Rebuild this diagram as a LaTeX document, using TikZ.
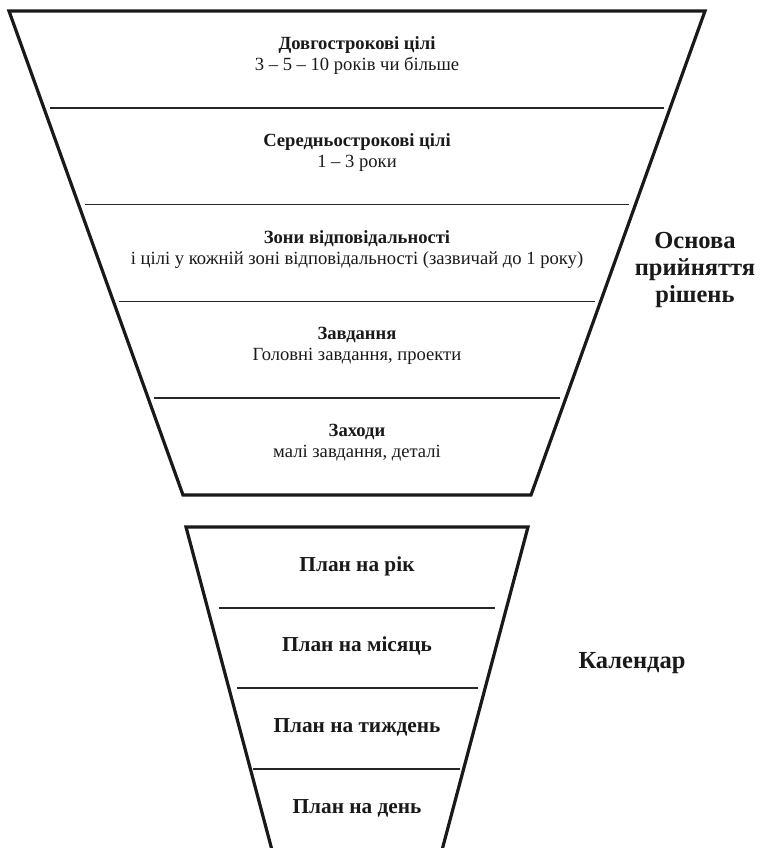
\documentclass[tikz,border=0pt]{standalone}
\usepackage{fontspec}
\setmainfont{Liberation Serif}
\tikzset{
  outline/.style={line width=3.2pt, line join=miter, black!90},
  divider/.style={line width=1.6pt, black!85},
  small/.style={align=center, font=\fontsize{18.6}{21}\selectfont, inner sep=0pt, text=black!90},
  plan/.style={font=\fontsize{21.3}{24}\selectfont\bfseries, inner sep=0pt, text=black!90},
  side/.style={align=center, font=\fontsize{24.5}{27}\selectfont\bfseries, inner sep=0pt, text=black!90}
}
\begin{document}
\begin{tikzpicture}[x=1pt, y=-1pt]
\useasboundingbox (0,0) rectangle (761,848);
\clip (0,0) rectangle (761,848);
% top funnel
\coordinate (tl) at (9,11);
\coordinate (tr) at (705,11);
\coordinate (br) at (531,495);
\coordinate (bl) at (183,495);
\draw[outline] (tl) -- (tr) -- (br) -- (bl) -- cycle;
\draw[divider] (50,107.8) -- (664,107.8);
\draw[divider] (85,204.6) -- (629,204.6);
\draw[divider] (119,301.4) -- (595,301.4);
\draw[divider] (154,398.2) -- (560,398.2);
\node[small] (s1) at (357,55.5) {\textbf{Довгострокові цілі}\\3 – 5 – 10 років чи більше};
\node[small] (s2) at (357,152.3) {\textbf{Середньострокові цілі}\\1 – 3 роки};
\node[small] (s3) at (357,249.1) {\textbf{Зони відповідальності}\\і цілі у кожній зоні відповідальності (зазвичай до 1 року)};
\node[small] (s4) at (357,345.9) {\textbf{Завдання}\\Головні завдання, проекти};
\node[small] (s5) at (357,442.7) {\textbf{Заходи}\\малі завдання, деталі};
\node[side] (basis) at (695,270) {Основа\\прийняття\\рішень};
% bottom funnel
\coordinate (ptl) at (186,527);
\coordinate (ptr) at (528,527);
\coordinate (pbl) at (272.5,852);
\coordinate (pbr) at (441.5,852);
\draw[outline] (pbl) -- (ptl) -- (ptr) -- (pbr);
\draw[divider] (219,608) -- (495,608);
\draw[divider] (237,688) -- (478,688);
\draw[divider] (253,769) -- (460,769);
\node[plan] (p1) at (357,566) {План на рік};
\node[plan] (p2) at (357,646) {План на місяць};
\node[plan] (p3) at (357,727) {План на тиждень};
\node[plan] (p4) at (357,808) {План на день};
\node[side] (cal) at (632,663) {Календар};
\end{tikzpicture}
\end{document}
